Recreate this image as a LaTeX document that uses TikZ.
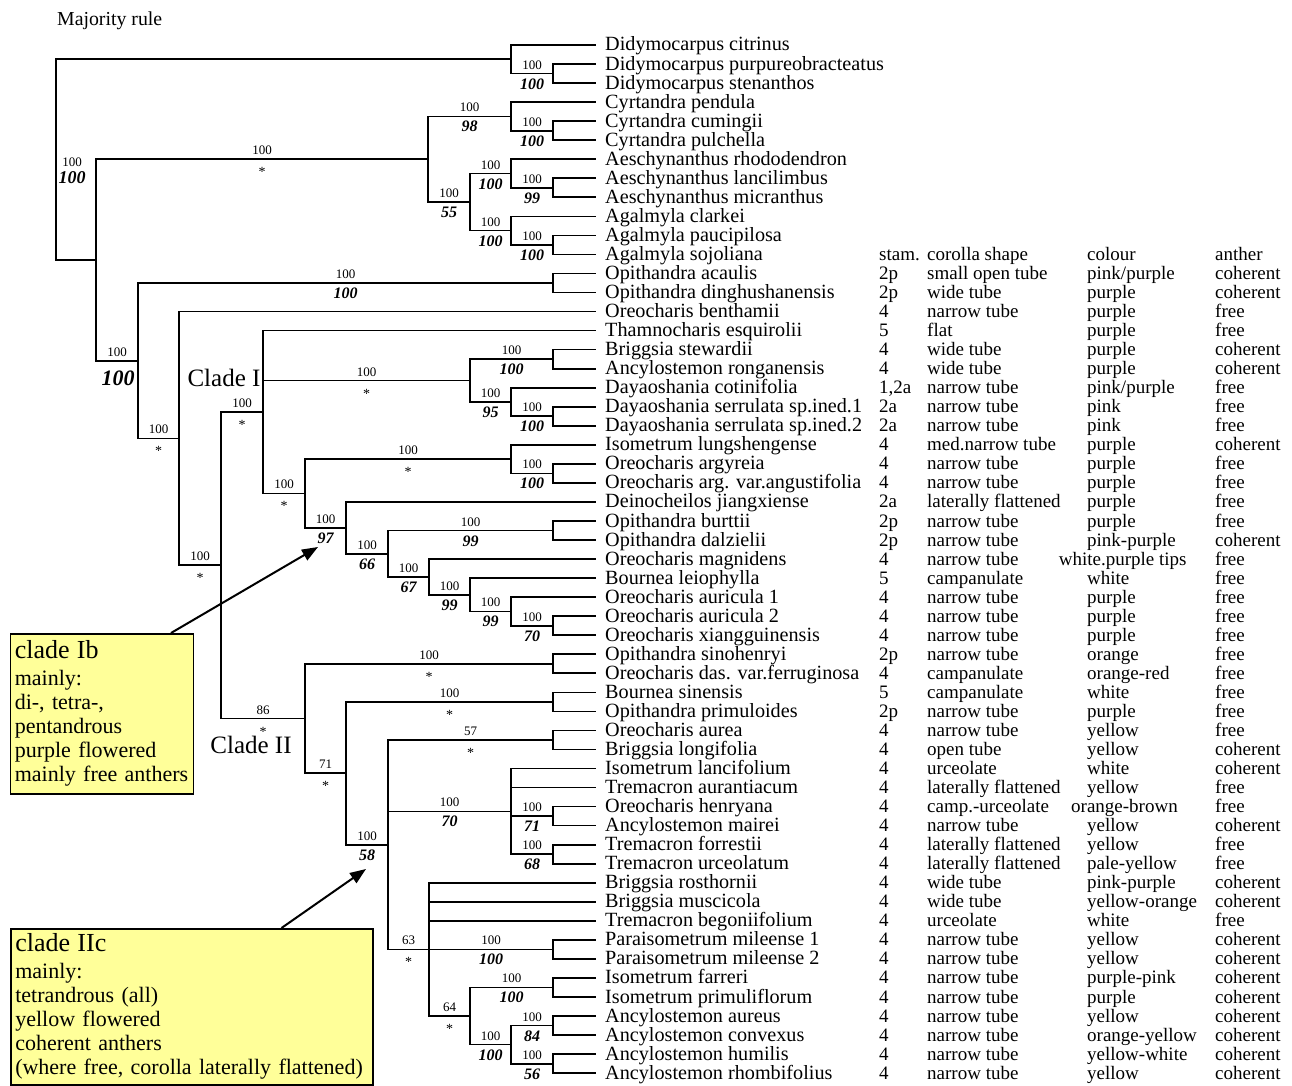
\documentclass[tikz,border=0pt]{standalone}
\usepackage{fontspec}
\setmainfont{Liberation Serif}
\usetikzlibrary{arrows.meta, calc}
\definecolor{notefill}{HTML}{FFFF99}

\begin{document}
\begin{tikzpicture}[x=1pt, y=-1pt,
  branch/.style={line width=1.7pt},
  taxon/.style={anchor=base west, inner sep=0pt, font=\fontsize{20.2}{20}\selectfont},
  cell/.style={anchor=base west, inner sep=0pt, font=\fontsize{19}{19}\selectfont},
  sup/.style={anchor=base, inner sep=0pt, yshift=4.5pt, font=\fontsize{13}{13}\selectfont},
  bsup/.style={anchor=base, inner sep=0pt, yshift=-15.5pt, font=\fontsize{16}{16}\selectfont\bfseries\itshape},
  star/.style={anchor=base, inner sep=0pt, yshift=-17.5pt, font=\fontsize{14}{14}\selectfont},
  cladename/.style={inner sep=0pt, font=\fontsize{25}{25}\selectfont},
  notebox/.style={draw, line width=1.5pt, fill=notefill, anchor=north west, align=left,
    inner sep=4.5pt, font=\fontsize{22}{24}\selectfont},
  callout/.style={line width=2pt, -{Triangle[length=16pt, width=12pt]}},
]
  \useasboundingbox (0,0) rectangle (1292,1086);

  \node[anchor=base west, inner sep=0pt, font=\fontsize{19.8}{19.8}\selectfont] (title) at (57,26) {Majority rule};

  % taxa and character table
  \foreach \name/\st/\cs/\co/\an [count=\i] in {
    Didymocarpus citrinus////,
    Didymocarpus purpureobracteatus////,
    Didymocarpus stenanthos////,
    Cyrtandra pendula////,
    Cyrtandra cumingii////,
    Cyrtandra pulchella////,
    Aeschynanthus rhododendron////,
    Aeschynanthus lancilimbus////,
    Aeschynanthus micranthus////,
    Agalmyla clarkei////,
    Agalmyla paucipilosa////,
    Agalmyla sojoliana/stam./corolla shape/colour/anther,
    Opithandra acaulis/2p/small open tube/{pink/purple}/coherent,
    Opithandra dinghushanensis/2p/wide tube/purple/coherent,
    Oreocharis benthamii/4/narrow tube/purple/free,
    Thamnocharis esquirolii/5/flat/purple/free,
    Briggsia stewardii/4/wide tube/purple/coherent,
    Ancylostemon ronganensis/4/wide tube/purple/coherent,
    Dayaoshania cotinifolia/{1,2a}/narrow tube/{pink/purple}/free,
    Dayaoshania serrulata sp.ined.1/2a/narrow tube/pink/free,
    Dayaoshania serrulata sp.ined.2/2a/narrow tube/pink/free,
    Isometrum lungshengense/4/med.narrow tube/purple/coherent,
    Oreocharis argyreia/4/narrow tube/purple/free,
    Oreocharis arg. var.angustifolia/4/narrow tube/purple/free,
    Deinocheilos jiangxiense/2a/laterally flattened/purple/free,
    Opithandra burttii/2p/narrow tube/purple/free,
    Opithandra dalzielii/2p/narrow tube/pink-purple/coherent,
    Oreocharis magnidens/4/narrow tube//free,
    Bournea leiophylla/5/campanulate/white/free,
    Oreocharis auricula 1/4/narrow tube/purple/free,
    Oreocharis auricula 2/4/narrow tube/purple/free,
    Oreocharis xiangguinensis/4/narrow tube/purple/free,
    Opithandra sinohenryi/2p/narrow tube/orange/free,
    Oreocharis das. var.ferruginosa/4/campanulate/orange-red/free,
    Bournea sinensis/5/campanulate/white/free,
    Opithandra primuloides/2p/narrow tube/purple/free,
    Oreocharis aurea/4/narrow tube/yellow/free,
    Briggsia longifolia/4/open tube/yellow/coherent,
    Isometrum lancifolium/4/urceolate/white/coherent,
    Tremacron aurantiacum/4/laterally flattened/yellow/free,
    Oreocharis henryana/4/camp.-urceolate//free,
    Ancylostemon mairei/4/narrow tube/yellow/coherent,
    Tremacron forrestii/4/laterally flattened/yellow/free,
    Tremacron urceolatum/4/laterally flattened/pale-yellow/free,
    Briggsia rosthornii/4/wide tube/pink-purple/coherent,
    Briggsia muscicola/4/wide tube/yellow-orange/coherent,
    Tremacron begoniifolium/4/urceolate/white/free,
    Paraisometrum mileense 1/4/narrow tube/yellow/coherent,
    Paraisometrum mileense 2/4/narrow tube/yellow/coherent,
    Isometrum farreri/4/narrow tube/purple-pink/coherent,
    Isometrum primuliflorum/4/narrow tube/purple/coherent,
    Ancylostemon aureus/4/narrow tube/yellow/coherent,
    Ancylostemon convexus/4/narrow tube/orange-yellow/coherent,
    Ancylostemon humilis/4/narrow tube/yellow-white/coherent,
    Ancylostemon rhombifolius/4/narrow tube/yellow/coherent}{
    \pgfmathsetmacro\ly{45+(\i-1)*19.04}
    \coordinate (l\i) at (596,\ly);
    \node[taxon] (tx\i) at (605,\ly+6) {\name};
    \node[cell] (st\i) at (879,\ly+6) {\st};
    \node[cell] (cs\i) at (927,\ly+6) {\cs};
    \node[cell] (co\i) at (1087,\ly+6) {\co};
    \node[cell] (an\i) at (1215,\ly+6) {\an};
  }
  \node[cell] (co28w) at (1058.6,565.08) {white.purple tips};
  \node[cell] (co41w) at (1071,812.6) {orange-brown};

  % internal nodes
  \foreach \n/\x/\y in {dA/553/73.56, dB/511/59.28, cA/553/130.68, cB/511/116.40,
    aA/553/187.80, aB/511/173.52, gA/553/244.92, gB/511/230.64, gC/470/202.08,
    cC/428/159.24, oA/553/283.00, briA/553/359.16, dayA/553/416.28, dayB/511/402.00,
    briB/470/380.58, isoA/553/473.40, isoB/511/459.12, opA/553/530.52, auA/553/625.72,
    auB/511/611.44, auC/470/594.78, auD/429/576.93, opB/388/553.73, deiA/346/527.85,
    isoC/305/493.48, thA/263/412.04, sinA/553/663.80, bsA/553/701.88, aurA/553/739.96,
    henA/553/816.12, treA/553/854.20, lanA/511/811.36, parA/553/949.40, farA/553/987.48,
    ancA/553/1025.56, ancB/553/1063.64, ancC/511/1044.60, farB/470/1016.04,
    rosA/429/949.40, lanB/388/844.68, bsB/346/773.28, sinB/305/718.54,
    clAB/221/565.29, benA/179/438.43, opC/138/360.71, ingB/96/259.98, root/56/159.63}
    \coordinate (\n) at (\x,\y);

  % branches
  \foreach \p/\c in {root/dB, root/ingB, dB/l1, dB/dA, dA/l2, dA/l3,
    ingB/cC, ingB/opC, cC/cB, cC/gC, cB/l4, cB/cA, cA/l5, cA/l6,
    gC/aB, gC/gB, aB/l7, aB/aA, aA/l8, aA/l9, gB/l10, gB/gA, gA/l11, gA/l12,
    opC/oA, opC/benA, oA/l13, oA/l14, benA/l15, benA/clAB, clAB/thA, clAB/sinB,
    thA/l16, thA/briB, thA/isoC, briB/briA, briB/dayB, briA/l17, briA/l18,
    dayB/l19, dayB/dayA, dayA/l20, dayA/l21, isoC/isoB, isoC/deiA,
    isoB/l22, isoB/isoA, isoA/l23, isoA/l24, deiA/l25, deiA/opB,
    opB/opA, opB/auD, opA/l26, opA/l27, auD/l28, auD/auC, auC/l29, auC/auB,
    auB/l30, auB/auA, auA/l31, auA/l32, sinB/sinA, sinB/bsB, sinA/l33, sinA/l34,
    bsB/bsA, bsB/lanB, bsA/l35, bsA/l36, lanB/aurA, lanB/lanA, lanB/rosA,
    aurA/l37, aurA/l38, lanA/l39, lanA/l40, lanA/henA, lanA/treA,
    henA/l41, henA/l42, treA/l43, treA/l44,
    rosA/l45, rosA/l46, rosA/l47, rosA/parA, rosA/farB, parA/l48, parA/l49,
    farB/farA, farB/ancC, farA/l50, farA/l51, ancC/ancA, ancC/ancB,
    ancA/l52, ancA/l53, ancB/l54, ancB/l55}
    \draw[branch] (\p) |- (\c);

  % support values: bootstrap above, posterior below
  \foreach \p/\n/\u/\d [count=\k] in {dB/dA/100/100, cC/cB/100/98, cB/cA/100/100,
    cC/gC/100/55, gC/aB/100/100, aB/aA/100/99, gC/gB/100/100, gB/gA/100/100,
    opC/oA/100/100, briB/briA/100/100, briB/dayB/100/95, dayB/dayA/100/100,
    isoB/isoA/100/100, isoC/deiA/100/97, deiA/opB/100/66, opB/opA/100/99,
    opB/auD/100/67, auD/auC/100/99, auC/auB/100/99, auB/auA/100/70,
    bsB/lanB/100/58, lanB/lanA/100/70, lanA/henA/100/71, lanA/treA/100/68,
    rosA/parA/100/100, farB/farA/100/100, farB/ancC/100/100,
    ancC/ancA/100/84, ancC/ancB/100/56}{
    \node[sup] (su\k) at ($(\p |- \n)!.5!(\n)$) {\u};
    \node[bsup] (sd\k) at ($(\p |- \n)!.5!(\n)$) {\d};
  }
  \foreach \p/\n/\u [count=\k] in {ingB/cC/100, opC/benA/100, benA/clAB/100,
    clAB/thA/100, thA/briB/100, thA/isoC/100, isoC/isoB/100, clAB/sinB/86,
    sinB/sinA/100, sinB/bsB/71, bsB/bsA/100, lanB/aurA/57, lanB/rosA/63,
    rosA/farB/64}{
    \node[sup] (ru\k) at ($(\p |- \n)!.5!(\n)$) {\u};
    \node[star] (rs\k) at ($(\p |- \n)!.5!(\n)$) {*};
  }
  \node[sup] (suIng) at (72,171.5) {100};
  \node[bsup, font=\fontsize{18}{18}\selectfont\bfseries\itshape] (sdIng) at (72,167.8) {100};
  \node[sup] (suOpC) at ($(ingB |- opC)!.5!(opC)$) {100};
  \node[bsup, font=\fontsize{22}{22}\selectfont\bfseries\itshape] (sdOpC) at (118,369.5) {100};

  \node[cladename] (cladeI) at (224,378) {Clade I};
  \node[cladename] (cladeII) at (251,745) {Clade II};

  % clade notes
  \node[notebox, text width=174pt, minimum height=160pt] (ib) at (9.5,633)
    {{\fontsize{26}{28}\selectfont clade Ib}\\[3pt] mainly:\\ di-, tetra-,\\ pentandrous\\
     purple flowered\\ mainly free anthers};
  \node[notebox, text width=353pt, minimum height=156pt] (iic) at (10,928)
    {{\fontsize{26}{28}\selectfont clade IIc}\\[3pt] mainly:\\ tetrandrous (all)\\
     yellow flowered\\ coherent anthers\\ (where free, corolla laterally flattened)};

  \coordinate (ibfoot) at ([xshift=161.5pt]ib.north west);
  \coordinate (ibtip) at (318,547);
  \coordinate (iicfoot) at ([xshift=271.5pt]iic.north west);
  \coordinate (iictip) at (366,869);
  \draw[callout] (ibfoot) -- (ibtip);
  \draw[callout] (iicfoot) -- (iictip);
\end{tikzpicture}
\end{document}
